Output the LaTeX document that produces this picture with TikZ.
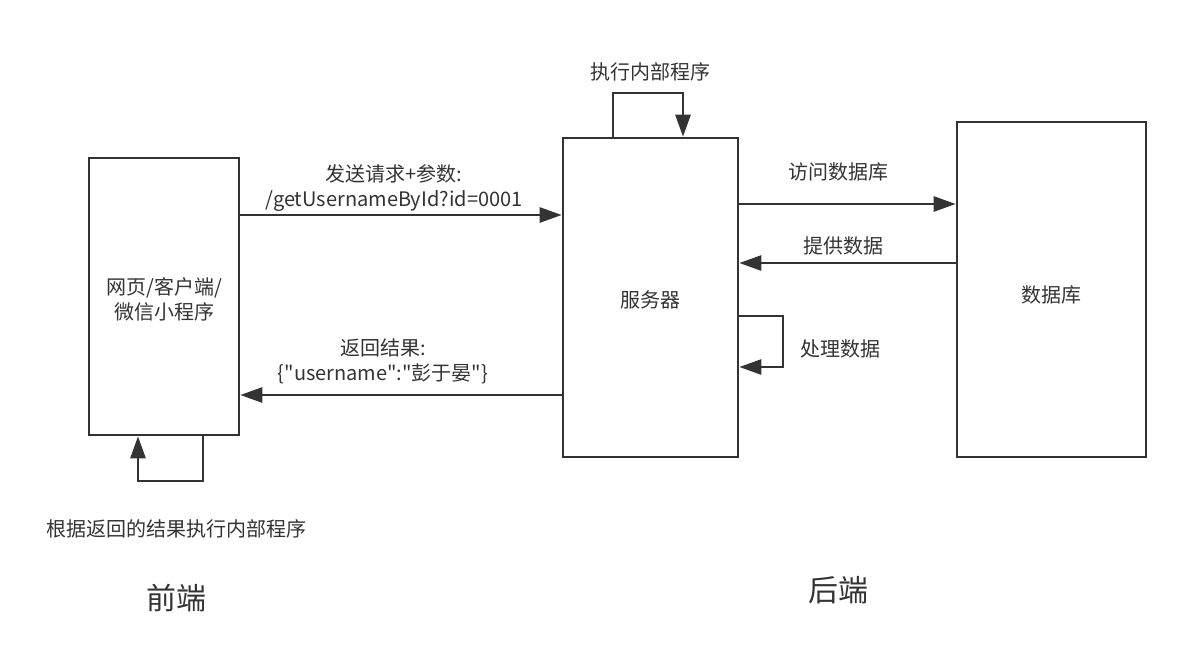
\documentclass[tikz,border=0pt]{standalone}
\usepackage{fontspec}
\setmainfont{Noto Sans CJK SC}[Ligatures=TeXOff]
\usetikzlibrary{arrows.meta}
\definecolor{ink}{HTML}{333333}
\tikzset{
  box/.style={draw=ink, line width=2.6pt, minimum width=#1},
  conn/.style={draw=ink, line width=2.6pt, -{Triangle[length=22pt,width=15pt]}},
  lbl/.style={text=ink, font=\fontsize{20}{25}\selectfont, align=center, inner sep=0pt},
  big/.style={text=ink, font=\fontsize{30}{36}\selectfont, inner sep=0pt},
}
\begin{document}
\begin{tikzpicture}[x=1pt,y=-1pt]
\useasboundingbox (0,0) rectangle (1184,662);
% boxes
\node[box=150pt, minimum height=277pt, inner sep=0pt] (fe) at (164,296.5) {};
\node[box=175pt, minimum height=319pt, inner sep=0pt] (srv) at (650.5,297.5) {};
\node[box=189pt, minimum height=335pt, inner sep=0pt] (db) at (1051.5,289.5) {};
\node[lbl] (fet) at (164,299) {网页/客户端/\\微信小程序};
\node[lbl] (srvt) at (650,300) {服务器};
\node[lbl] (dbt) at (1051,295) {数据库};
% coordinates
\coordinate (a1s) at (fe.east |- 0,215);
\coordinate (a1e) at (srv.west |- 0,215);
\coordinate (a2s) at (srv.west |- 0,395);
\coordinate (a2e) at (fe.east |- 0,395);
\coordinate (a3s) at (srv.east |- 0,204);
\coordinate (a3e) at (db.west |- 0,204);
\coordinate (a4s) at (db.west |- 0,263);
\coordinate (a4e) at (srv.east |- 0,263);
\draw[conn] (a1s) -- (a1e);
\draw[conn] (a2s) -- (a2e);
\draw[conn] (a3s) -- (a3e);
\draw[conn] (a4s) -- (a4e);
\node[lbl] (l1) at (394,188) {发送请求+参数:\\/getUsernameById?id=0001};
\node[lbl] (l2) at (383,361) {返回结果:\\\{"username":"彭于晏"\}};
\node[lbl] (l3) at (838,172) {访问数据库};
\node[lbl] (l4) at (843,246) {提供数据};
% top loop
\coordinate (t1) at (srv.north -| 613,0);
\coordinate (t2) at (srv.north -| 683,0);
\draw[conn] (t1) -- (613,93) -- (683,93) -- (t2);
\node[lbl] (l5) at (650,72) {执行内部程序};
% right loop
\coordinate (r1) at (srv.east |- 0,316);
\coordinate (r2) at (srv.east |- 0,367);
\draw[conn] (r1) -- (783,316) -- (783,367) -- (r2);
\node[lbl] (l6) at (840,349) {处理数据};
% bottom loop
\coordinate (b1) at (fe.south -| 203,0);
\coordinate (b2) at (fe.south -| 138,0);
\draw[conn] (b1) -- (203,481) -- (138,481) -- (b2);
\node[lbl] (l7) at (176,529) {根据返回的结果执行内部程序};
\node[big] (fe2) at (176,598) {前端};
\node[big] (be2) at (838,590) {后端};
\end{tikzpicture}
\end{document}
